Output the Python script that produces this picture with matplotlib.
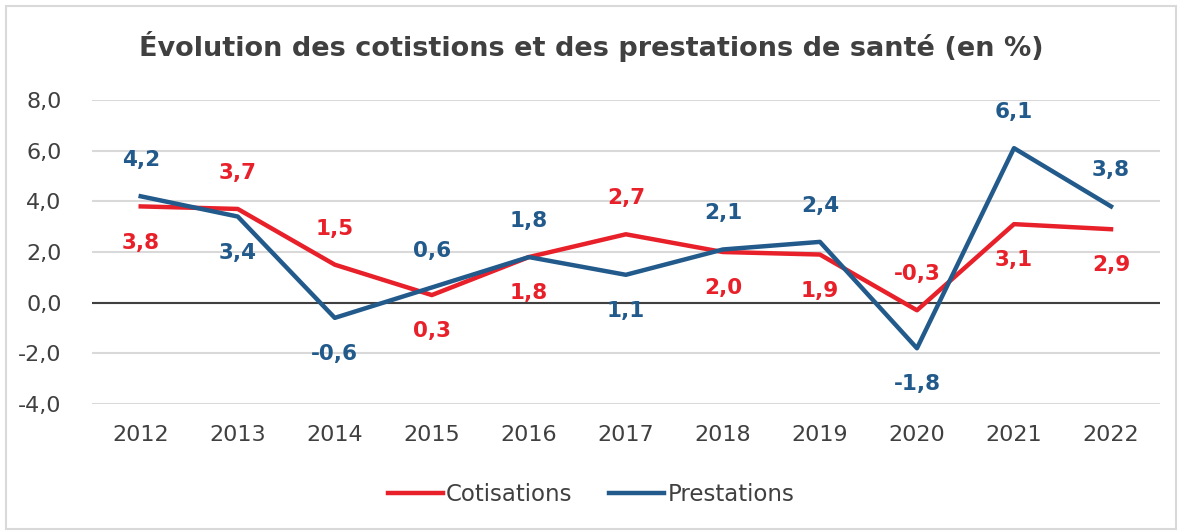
import matplotlib.pyplot as plt
from matplotlib.patches import Rectangle

annees = ['2012', '2013', '2014', '2015', '2016', '2017', '2018', '2019', '2020', '2021', '2022']
cotisations = [3.8, 3.7, 1.5, 0.3, 1.8, 2.7, 2.0, 1.9, -0.3, 3.1, 2.9]
prestations = [4.2, 3.4, -0.6, 0.6, 1.8, 1.1, 2.1, 2.4, -1.8, 6.1, 3.8]
# +1 = label above the point, -1 = label below
pos_cot = [-1, 1, 1, -1, -1, 1, -1, -1, 1, -1, -1]
pos_pre = [1, -1, -1, 1, 1, -1, 1, 1, -1, 1, 1]
yticks = [-4, -2, 0, 2, 4, 6, 8]

rouge = '#E8202A'
bleu = '#225A8B'
gris = '#404040'

plt.rcParams['font.family'] = ['DejaVu Sans']

fig = plt.figure(figsize=(11.82, 5.32), dpi=100)
fig.patches.append(Rectangle((0.005, 0.006), 0.99, 0.982, transform=fig.transFigure,
                             fill=False, edgecolor='#D9D9D9', linewidth=1.5))
ax = fig.add_axes([0.078, 0.2406, 0.903, 0.5714])

x = list(range(len(annees)))
ax.plot(x, cotisations, color=rouge, lw=3.2, label='Cotisations', zorder=3)
ax.plot(x, prestations, color=bleu, lw=3.2, label='Prestations', zorder=4)

for xi, v, p in zip(x, cotisations, pos_cot):
    ax.annotate(('%.1f' % v).replace('.', ','), (xi, v), xytext=(0, 26 * p),
                textcoords='offset points', ha='center', va='center',
                color=rouge, fontsize=15.5, fontweight='bold', zorder=5)
for xi, v, p in zip(x, prestations, pos_pre):
    ax.annotate(('%.1f' % v).replace('.', ','), (xi, v), xytext=(0, 26 * p),
                textcoords='offset points', ha='center', va='center',
                color=bleu, fontsize=15.5, fontweight='bold', zorder=5)

ax.set_xlim(-0.5, len(annees) - 0.5)
ax.set_ylim(-4, 8)
ax.set_yticks(yticks)
ax.set_yticklabels([('%.1f' % t).replace('.', ',') for t in yticks])
ax.set_xticks(x)
ax.set_xticklabels(annees)
ax.tick_params(length=0, labelsize=16, labelcolor=gris)
ax.tick_params(axis='x', pad=15)
ax.tick_params(axis='y', pad=22)
ax.grid(axis='y', color='#D9D9D9', lw=1.5)
ax.axhline(0, color=gris, lw=1.5, zorder=2)
ax.set_axisbelow(True)
for s in ax.spines.values():
    s.set_visible(False)

fig.text(0.5, 0.912, 'Évolution des cotistions et des prestations de santé (en %)',
         ha='center', va='center', fontsize=19.5, fontweight='bold', color=gris)

leg = fig.legend(loc='center', bbox_to_anchor=(0.5, 0.07), ncol=2, frameon=False,
                 fontsize=16.5, handlelength=2.4, handletextpad=0.15, columnspacing=1.6)
for t in leg.get_texts():
    t.set_color(gris)

plt.savefig('out.png', dpi=100)
